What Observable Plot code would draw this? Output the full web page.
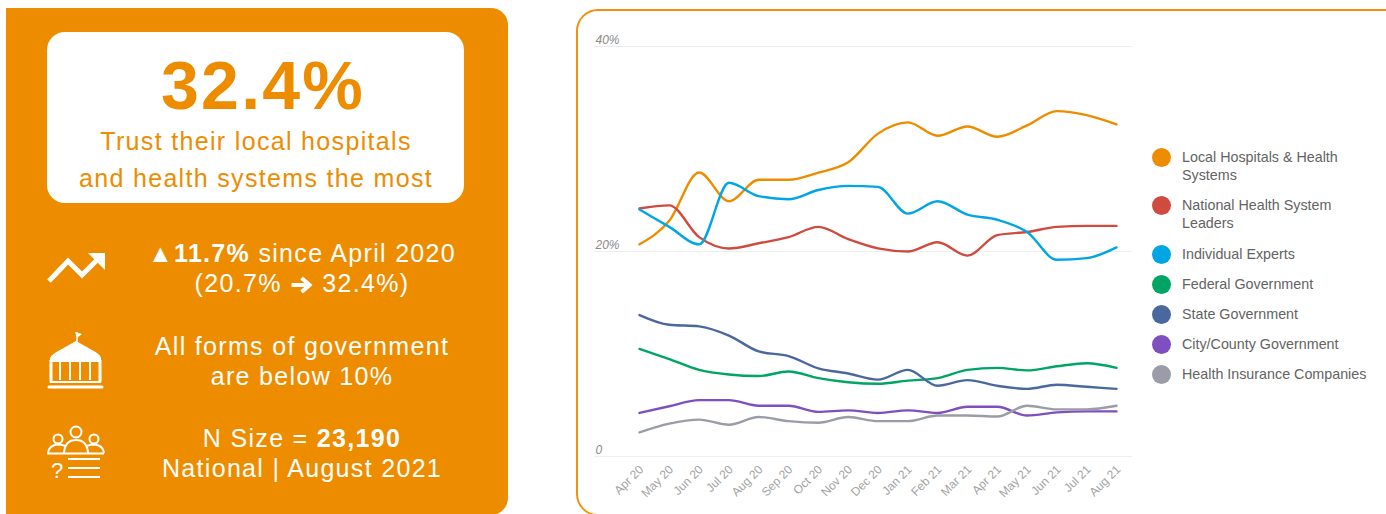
<!DOCTYPE html>
<html>
<head>
<meta charset="utf-8">
<script src="https://cdn.jsdelivr.net/npm/d3@7"></script>
<script src="https://cdn.jsdelivr.net/npm/@observablehq/plot@0.6"></script>
<style>
  html, body { margin: 0; padding: 0; background: #fff; }
  body { width: 1386px; height: 514px; overflow: hidden; position: relative; font-family: "Liberation Sans", Arial, sans-serif; }
  .panel { position: absolute; left: 6px; top: 8px; width: 502px; height: 507px; background: #EE8C00; border-radius: 0 17px 17px 0; }
  .hero { position: absolute; left: 47px; top: 32px; width: 417px; height: 171px; background: #fff; border-radius: 18px; }
  .line { position: absolute; white-space: nowrap; transform: translateX(-50%); line-height: 1; }
  .big { color: #EE8C00; font-weight: 700; font-size: 68px; left: 263px; top: 51px; letter-spacing: 2.2px; }
  .sub { color: #EE8C00; font-size: 25px; letter-spacing: 1.33px; left: 256px; }
  .fact { color: #fff; font-size: 25px; letter-spacing: 1.32px; left: 302px; }
  .arrow { display: inline-block; vertical-align: -2px; margin: 0 1px; }
  .icons { position: absolute; left: 0; top: 0; }
  .card { position: absolute; left: 576px; top: 9px; width: 900px; height: 507px; box-sizing: border-box; border: 2px solid #F0920F; border-radius: 22px; }
  #chart { position: absolute; left: 578px; top: 11px; }
  #chart svg { overflow: visible; display: block; }
  .legend { position: absolute; left: 1152px; top: 148px; margin: 0; padding: 0; list-style: none; width: 225px; }
  .legend li { position: relative; padding-left: 30px; font-size: 14.3px; line-height: 18px; color: #636363; margin-bottom: 12px; width: 165px; }
  .legend li:nth-child(2) { margin-bottom: 13px; }
  .legend li:nth-child(n+3) { white-space: nowrap; }
  .legend i { position: absolute; left: 0; top: 0; width: 19px; height: 19px; border-radius: 50%; }
</style>
</head>
<body>
<div class="panel"></div>
<div class="hero"></div>
<div class="line big">32.4%</div>
<div class="line sub" style="top:129px">Trust their local hospitals</div>
<div class="line sub" style="top:166px">and health systems the most</div>

<div class="line fact" style="top:241px">▲<b>11.7%</b> since April 2020</div>
<div class="line fact" style="top:271px">(20.7% <svg class="arrow" width="22" height="18" viewBox="0 0 22 18"><path d="M1,9 H19 M11,2 L19,9 L11,16" fill="none" stroke="#fff" stroke-width="4"/></svg> 32.4%)</div>
<div class="line fact" style="top:334px">All forms of government</div>
<div class="line fact" style="top:364px">are below 10%</div>
<div class="line fact" style="top:426px">N Size = <b>23,190</b></div>
<div class="line fact" style="top:456px">National | August 2021</div>

<svg class="icons" width="120" height="514" fill="none" stroke="#fff">
  <!-- trend arrow -->
  <polyline points="49,281 68,261 82,275 98,259" stroke-width="5"/>
  <polygon points="88,253 105,253 105,270" fill="#fff" stroke="none"/>
  <!-- government building -->
  <path d="M77,342 V332" stroke-width="1.5"/>
  <path d="M75,332 L82,334 L77,338 Z" fill="#fff" stroke="none"/>
  <path d="M50,358 Q52,354 60,350 L76,341 L92,350 Q100,354 101,358 L101,362 L50,362 Z" fill="#fff" stroke="none"/>
  <path d="M51,360 V382 M100,360 V382" stroke-width="3"/>
  <path d="M60,362 V380 M70,362 V380 M80,362 V380 M90,362 V380" stroke-width="2"/>
  <path d="M50,382 H101" stroke-width="2"/>
  <path d="M49,387 H102" stroke-width="3" stroke-linecap="round"/>
  <!-- survey respondents -->
  <g stroke-width="2">
    <circle cx="76" cy="432" r="5.5"/>
    <circle cx="58" cy="439" r="4.5"/>
    <circle cx="94" cy="439" r="4.5"/>
    <path d="M48,453 Q49,445 58,444.5 Q62,444.5 65,446"/>
    <path d="M104,453 Q103,445 94,444.5 Q90,444.5 87,446"/>
    <path d="M64,453 Q65,440 76,440 Q87,440 88,453"/>
    <path d="M47,453.5 H104"/>
    <path d="M68,459 H100 M68,468 H100 M68,477 H100"/>
  </g>
  <text x="57" y="478" fill="#fff" stroke="none" font-size="22" text-anchor="middle" font-family="Liberation Sans">?</text>
</svg>

<div class="card"></div>
<div id="chart"></div>
<ul class="legend" id="legend"></ul>

<script>
const months = ["Apr 20","May 20","Jun 20","Jul 20","Aug 20","Sep 20","Oct 20","Nov 20","Dec 20","Jan 21","Feb 21","Mar 21","Apr 21","May 21","Jun 21","Jul 21","Aug 21"];

const localHospitals = [20.7,23.0,27.7,24.9,27.0,27.0,27.7,28.7,31.5,32.6,31.3,32.2,31.2,32.3,33.7,33.3,32.4];
const healthLeaders  = [24.2,24.5,21.4,20.3,20.8,21.4,22.4,21.2,20.3,20.0,20.9,19.6,21.6,21.9,22.4,22.5,22.5];
const experts        = [24.1,22.4,20.7,26.7,25.4,25.1,26.0,26.4,26.3,23.7,24.9,23.6,23.1,21.9,19.2,19.35,20.4];
const federal        = [10.5,9.5,8.45,8.0,7.85,8.3,7.65,7.25,7.1,7.4,7.65,8.45,8.65,8.4,8.8,9.1,8.65];
const state          = [13.8,12.85,12.7,11.8,10.25,9.8,8.6,8.1,7.5,8.45,6.9,7.45,6.9,6.6,7.0,6.8,6.6];
const cityCounty     = [4.25,4.9,5.5,5.5,4.95,4.95,4.35,4.5,4.25,4.5,4.25,4.85,4.85,4.0,4.3,4.4,4.4];
const insurers       = [2.35,3.2,3.6,3.1,3.85,3.45,3.3,3.85,3.45,3.45,4.0,4.0,3.9,4.95,4.6,4.6,4.95];

const seriesNames  = ["Local Hospitals & Health Systems","National Health System Leaders","Individual Experts","Federal Government","State Government","City/County Government","Health Insurance Companies"];
const seriesValues = [localHospitals, healthLeaders, experts, federal, state, cityCounty, insurers];
const seriesColors = ["#EE8C00","#CF4B3F","#00A6E4","#00A566","#4A689E","#7F4FBF","#9A9DA8"];
const yTicks = [0, 20, 40];

const rows = seriesNames.flatMap((name, s) =>
  months.map((month, i) => ({name, month, value: seriesValues[s][i]})));

const chart = Plot.plot({
  width: 554,
  height: 503,
  marginLeft: 16,
  marginRight: 0,
  marginTop: 35,
  marginBottom: 58,
  style: {background: "transparent", fontFamily: "Liberation Sans, Arial, sans-serif"},
  x: {type: "point", domain: months, range: [61, 538], padding: 0, round: false, label: null},
  y: {domain: [0, 40], range: [445, 35], label: null},
  color: {domain: seriesNames, range: seriesColors},
  marks: [
    Plot.ruleY(yTicks, {stroke: "#eeeeee", strokeWidth: 1}),
    Plot.axisY(yTicks, {
      anchor: "left", tickSize: 0, textAnchor: "start", dx: 10, dy: -6.4,
      tickFormat: d => d === 0 ? "0" : d + "%",
      fontStyle: "italic", fontSize: 12, fill: "#8a8a8a", label: null
    }),
    Plot.axisX({
      anchor: "bottom", tickSize: 0, tickPadding: 11, dx: 2, tickRotate: -45,
      fontSize: 12, fill: "#a3a3a3", label: null
    }),
    Plot.line(rows, {
      x: "month", y: "value", z: "name", stroke: "name",
      curve: "monotone-x", strokeWidth: 2.4
    })
  ]
});
document.getElementById("chart").append(chart);

// Legend beside the plot, one entry per series
const legend = document.getElementById("legend");
seriesNames.forEach((name, i) => {
  const li = document.createElement("li");
  const dot = document.createElement("i");
  dot.style.background = seriesColors[i];
  li.append(dot, name);
  legend.append(li);
});
</script>
</body>
</html>
